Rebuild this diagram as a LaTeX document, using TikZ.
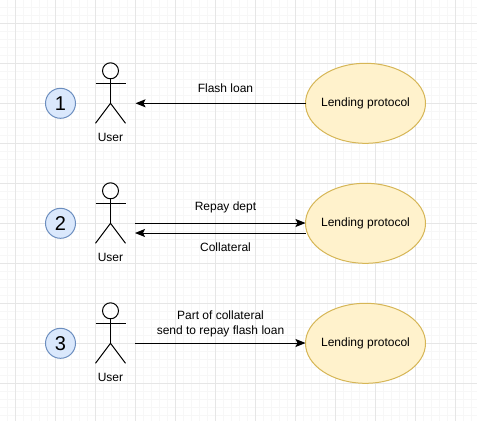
\documentclass[tikz,border=0pt]{standalone}
\usepackage{fontspec}
\setmainfont{Liberation Sans}
\definecolor{gmaj}{HTML}{E6E6E6}
\definecolor{gmin}{HTML}{F7F7F7}
\definecolor{bfill}{HTML}{DAE8FC}
\definecolor{bline}{HTML}{6C8EBF}
\definecolor{yfill}{HTML}{FFF2CC}
\definecolor{yline}{HTML}{D6B656}
\usetikzlibrary{shapes.geometric,arrows.meta}
\tikzset{x=0.75pt,y=-0.75pt,
 numc/.style={circle,draw=bline,fill=bfill,line width=0.75pt,minimum size=30*0.75pt,inner sep=0pt,font=\fontsize{15pt}{17pt}\selectfont},
 lend/.style={ellipse,draw=yline,fill=yfill,line width=0.75pt,minimum width=120*0.75pt,minimum height=80*0.75pt,inner sep=0pt,outer sep=0pt,label={[lab]center:Lending protocol}},
 lab/.style={inner sep=0pt,align=center,font=\fontsize{9pt}{11.25pt}\selectfont},
 actorline/.style={line width=0.75pt},
 flow/.style={-{Stealth[length=7.5pt,width=6pt,inset=1.5pt]},line width=0.75pt}}
\newcommand{\actor}[2]{%
 \begin{scope}[shift={(110.5,#1)}]
 \draw[actorline] (0,-32.5) circle[radius=8];
 \draw[actorline] (0,-24.5) -- (0,0);
 \draw[actorline] (-15,-20) -- (15,-20);
 \draw[actorline] (-15,20) -- (0,0) -- (15,20);
 \end{scope}
 \node[lab] (#2) at (110.5,#1+34) {User};}
\begin{document}
\begin{tikzpicture}
\useasboundingbox (0,0) rectangle (477,421);
\fill[white] (0,0) rectangle (477,421);
\foreach \i in {0,...,60}{
 \draw[gmin,line width=0.75pt] ({15.5-8+8*\i},0) -- ({15.5-8+8*\i},421);
 \draw[gmin,line width=0.75pt] (0,{-0.7+8*\i}) -- (477,{-0.7+8*\i});}
\foreach \i in {0,...,12}{
 \draw[gmaj,line width=0.75pt] ({15.5+40*\i},0) -- ({15.5+40*\i},421);
 \draw[gmaj,line width=0.75pt] (0,{23.3+40*\i}) -- (477,{23.3+40*\i});}
\node[numc] (n1) at (60.5,103.3) {1};
\node[numc] (n2) at (60.5,223.3) {2};
\node[numc] (n3) at (60.5,343.3) {3};
\actor{103.3}{a1}
\actor{223.3}{a2}
\actor{343.3}{a3}
\coordinate (u1) at (135.5,103.3);
\coordinate (u2a) at (135,223);
\coordinate (u2b) at (135,233);
\coordinate (u3) at (135,343);
\node[lend] (l1) at (365.5,103.3) {};
\node[lend] (l2) at (365.5,223.3) {};
\node[lend] (l3) at (365.5,343.3) {};
\coordinate (e2b) at (305.8,233);
\draw[flow] (l1.west) -- (u1);
\draw[flow] (u2a) -- (l2.west |- u2a);
\draw[flow] (e2b) -- (u2b);
\draw[flow] (u3) -- (l3.west |- u3);
\node[lab] (t1) at (225.5,88) {Flash loan};
\node[lab] (t2) at (225.5,207.5) {Repay dept};
\node[lab] (t3) at (225.5,246.8) {Collateral};
\node[lab] (t4) at (220.5,324.3) {Part of collateral\\send to repay flash loan};
\end{tikzpicture}
\end{document}
